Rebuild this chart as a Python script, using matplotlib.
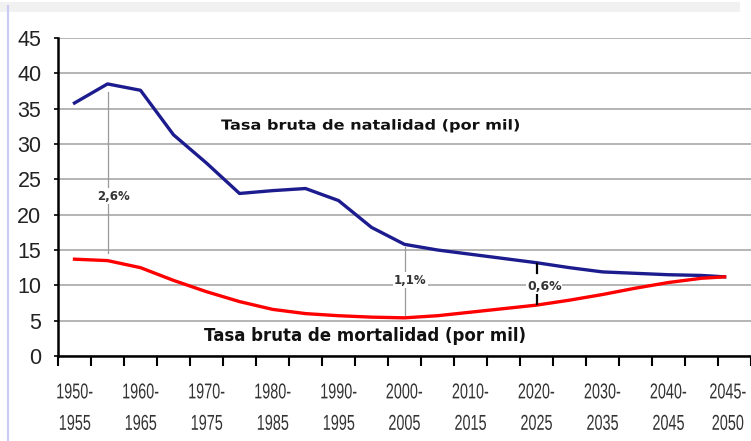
import matplotlib
matplotlib.use("Agg")
import matplotlib.pyplot as plt
from matplotlib.patches import Rectangle
from matplotlib.lines import Line2D
from matplotlib.patheffects import AbstractPathEffect
from matplotlib.transforms import Affine2D

# period midpoints (1950-1955 -> 1952.5 ...); the last point sits slightly past 2047.5
mid_years = [1952.5, 1957.5, 1962.5, 1967.5, 1972.5, 1977.5, 1982.5, 1987.5,
             1992.5, 1997.5, 2002.5, 2007.5, 2012.5, 2017.5, 2022.5, 2027.5,
             2032.5, 2037.5, 2042.5, 2047.5, 2051.0]
natalidad = [35.8, 38.5, 37.6, 31.3, 27.3, 23.0, 23.4, 23.7, 22.0, 18.2, 15.8,
             15.0, 14.4, 13.8, 13.2, 12.5, 11.9, 11.7, 11.5, 11.4, 11.2]
mortalidad = [13.7, 13.5, 12.5, 10.7, 9.1, 7.7, 6.6, 6.0, 5.7, 5.5, 5.4,
              5.7, 6.2, 6.7, 7.2, 7.9, 8.7, 9.6, 10.4, 11.0, 11.2]

tick_labels = ["1950-\n1955", "1960-\n1965", "1970-\n1975", "1980-\n1985",
               "1990-\n1995", "2000-\n2005", "2010-\n2015", "2020-\n2025",
               "2030-\n2035", "2040-\n2045", "2045-\n2050"]
tick_label_pos = [1952.5, 1962.5, 1972.5, 1982.5, 1992.5, 2002.5, 2012.5,
                  2022.5, 2032.5, 2042.5, 2051.5]
period_edges = list(range(1950, 2056, 5))

# gap markers: (year, top, bottom, label, label y)
gaps = [(1957.5, 37.3, 14.6, "2,6%", 22.6),
        (2002.5, 15.4, 5.8, "1,1%", 10.7)]


class Squeeze(AbstractPathEffect):
    """Scale glyph paths horizontally around each line's centre."""

    def __init__(self, sx):
        super().__init__()
        self.sx = sx

    def draw_path(self, renderer, gc, tpath, affine, rgbFace=None):
        ext = tpath.get_extents()
        cx = (ext.x0 + ext.x1) / 2
        t = Affine2D().translate(-cx, 0).scale(self.sx, 1).translate(cx, 0) + affine
        renderer.draw_path(gc, tpath, t, rgbFace)


fig = plt.figure(figsize=(7.51, 4.41), dpi=100)
fig.patch.set_facecolor("white")

# frame decoration of the original screenshot
fig.add_artist(Rectangle((0.0, 1 - 12 / 441), 0.985, 10 / 441,
                         transform=fig.transFigure, color="#f1f1f1", lw=0))
fig.add_artist(Line2D([8 / 751, 8 / 751], [0, 1 - 6 / 441],
                      transform=fig.transFigure, color="#c9c9f2", lw=1.5))

ax = fig.add_axes([58 / 751, 1 - 356 / 441, 693 / 751, 318 / 441])

ax.set_xlim(1950, 2054.7)
ax.set_ylim(0, 45)
ax.set_yticks(range(0, 46, 5))
ax.yaxis.grid(True, color="#b4b4b4", lw=1.4)
ax.set_axisbelow(True)

for s in ["top", "right"]:
    ax.spines[s].set_visible(False)
ax.spines["left"].set_linewidth(1.8)
ax.spines["bottom"].set_linewidth(1.8)

ax.tick_params(axis="y", length=3, width=1.2, pad=9, labelsize=15.5)
for lab in ax.get_yticklabels():
    lab.set_fontfamily(["Liberation Sans", "DejaVu Sans"])
    lab.set_color("#222222")

ax.set_xticks(period_edges)
ax.set_xticklabels([])
ax.tick_params(axis="x", which="major", length=7, width=1.5, direction="out")
ax.set_xticks(tick_label_pos, minor=True)
ax.set_xticklabels(tick_labels, minor=True, fontsize=15.5,
                   family=["Liberation Sans", "DejaVu Sans"],
                   linespacing=1.65, color="#333333",
                   path_effects=[Squeeze(0.67)])
ax.tick_params(axis="x", which="minor", length=0, pad=19)

ax.plot(mid_years, natalidad, color="#1c1c8e", lw=2.4, solid_joinstyle="round")
ax.plot(mid_years, mortalidad, color="#ff0000", lw=2.4, solid_joinstyle="round")

for x, top, bot, txt, ty in gaps:
    ax.plot([x, x], [top, bot], color="#9a9a9a", lw=0.9, zorder=1.5)
    ax.text(x + 0.9, ty, txt, ha="center", va="center", fontsize=8.5,
            fontweight="bold", color="#333333",
            bbox=dict(facecolor="white", edgecolor="none", pad=1.0))

# 0,6% marker with short black segments
ax.plot([2022.5, 2022.5], [13.0, 11.8], color="black", lw=1.6)
ax.plot([2022.5, 2022.5], [8.6, 7.4], color="black", lw=1.6)
ax.text(2023.7, 9.8, "0,6%", ha="center", va="center", fontsize=9,
        fontweight="bold", color="#333333",
        bbox=dict(facecolor="white", edgecolor="none", pad=0.5))

ax.text(1997.4, 32.6, "Tasa bruta de natalidad (por mil)", ha="center",
        va="center", fontsize=10, fontweight="bold", color="#111111",
        path_effects=[Squeeze(1.16)])
ax.text(1996.5, 2.8, "Tasa bruta de mortalidad (por mil)", ha="center",
        va="center", fontsize=12, fontweight="bold", color="#111111")

fig.savefig("out.png", dpi=100)
